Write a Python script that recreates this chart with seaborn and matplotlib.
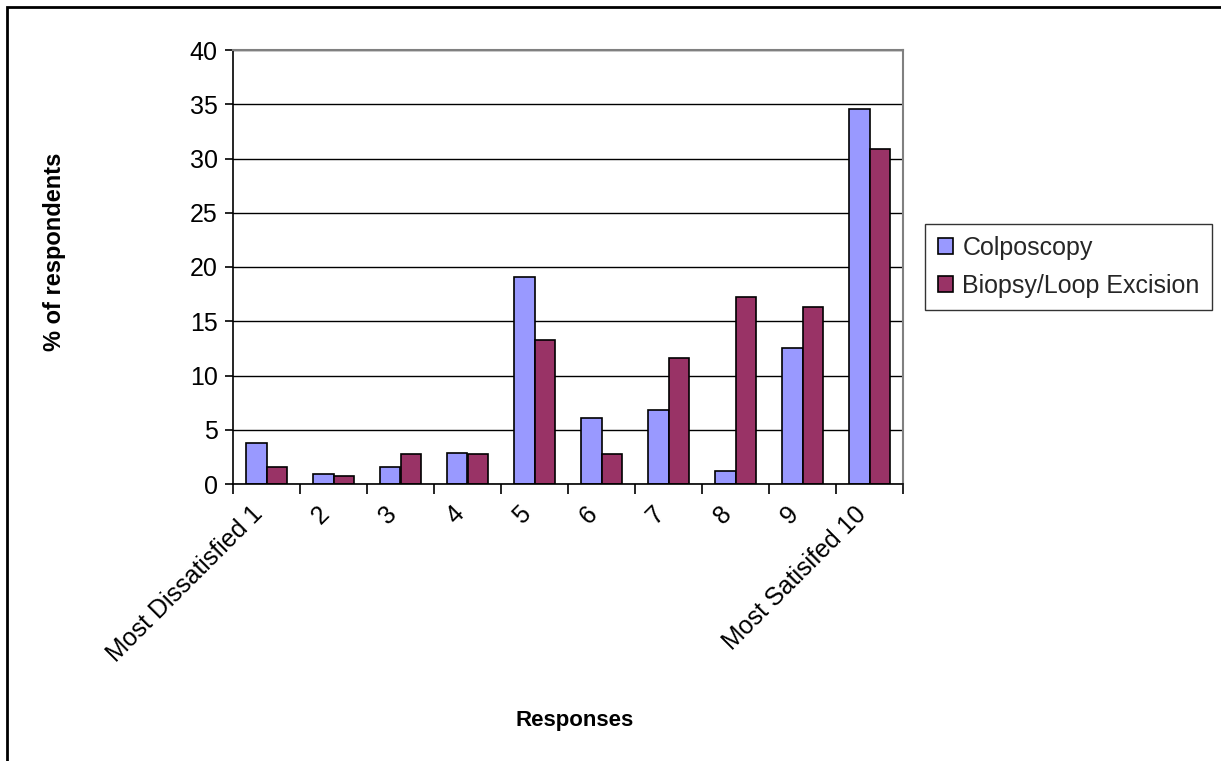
import matplotlib
matplotlib.use("Agg")
import matplotlib.pyplot as plt
import matplotlib.patches as mpatches
import matplotlib.transforms as mtransforms
from matplotlib.ticker import MultipleLocator, FixedLocator
import seaborn as sns
import pandas as pd

# Survey data: share of respondents per satisfaction score
responses = ["Most Dissatisfied 1", "2", "3", "4", "5", "6", "7", "8", "9", "Most Satisifed 10"]
colposcopy = [3.8, 0.9, 1.6, 2.9, 19.1, 6.1, 6.8, 1.2, 12.5, 34.6]
biopsy_loop = [1.6, 0.7, 2.8, 2.8, 13.3, 2.8, 11.6, 17.2, 16.3, 30.9]
series_names = ["Colposcopy", "Biopsy/Loop Excision"]
series_colors = ["#9999FF", "#993366"]

df = pd.DataFrame({
    "Responses": responses * 2,
    "pct": colposcopy + biopsy_loop,
    "Procedure": [series_names[0]] * len(responses) + [series_names[1]] * len(responses),
})

sns.set_theme(style="white")
plt.rcParams["font.family"] = ["Liberation Sans", "DejaVu Sans"]

fig = plt.figure(figsize=(12.21, 7.61), dpi=100)
W, H = 1221, 761
ax = fig.add_axes([233 / W, 1 - 484 / H, (903 - 233) / W, (484 - 50) / H])

sns.barplot(
    data=df, x="Responses", y="pct", hue="Procedure",
    palette=series_colors, width=0.6, gap=0,
    edgecolor="black", linewidth=1.2, saturation=1,
    ax=ax, legend=True,
)

ax.set_xlim(-0.5, len(responses) - 0.5)
ax.set_ylim(0, 40)
ax.yaxis.set_major_locator(MultipleLocator(5))
ax.grid(axis="y", color="#000000", linewidth=1.0)
ax.set_axisbelow(True)

for side in ("left", "bottom"):
    ax.spines[side].set_color("#000000")
    ax.spines[side].set_linewidth(1.2)
for side in ("top", "right"):
    ax.spines[side].set_color("#808080")
    ax.spines[side].set_linewidth(1.5)

# Category separators as ticks on the x axis
ax.xaxis.set_minor_locator(FixedLocator([i - 0.5 for i in range(len(responses) + 1)]))
ax.tick_params(axis="x", which="major", length=0, pad=13)
ax.tick_params(axis="x", which="minor", length=7, width=1.2, color="#000000", direction="out", bottom=True)
ax.tick_params(axis="y", which="major", length=6, width=1.2, color="#000000", direction="out", left=True, pad=5)
ax.tick_params(axis="both", labelsize=18, labelcolor="#000000")

ax.set_xticks(range(len(responses)))
ax.set_xticklabels(responses, rotation=45, ha="right", va="top", rotation_mode="anchor")
shift = mtransforms.ScaledTranslation(-16 / 100, 0, fig.dpi_scale_trans)
for lbl in ax.get_xticklabels():
    lbl.set_transform(lbl.get_transform() + shift)

ax.set_xlabel("Responses", fontsize=16, fontweight="bold", color="#000000")
ax.xaxis.set_label_coords(0.51, -0.52)
ax.set_ylabel("% of respondents", fontsize=17, fontweight="bold", color="#000000")
ax.yaxis.set_label_coords(-0.25, 0.535)

handles = [mpatches.Patch(facecolor=c, edgecolor="black", linewidth=1.2) for c in series_colors]
ax.legend(
    handles, series_names, loc="center left",
    bbox_to_anchor=(925 / W, 1 - 267 / H), bbox_transform=fig.transFigure,
    frameon=True, fancybox=False, edgecolor="#000000", fontsize=18,
    handlelength=0.6, handleheight=0.6, handletextpad=0.4,
    borderpad=0.5, labelspacing=0.55, borderaxespad=0,
)
ax.get_legend().get_frame().set_linewidth(1.0)

# Outer frame of the chart area (runs off the right and bottom edges)
fig.patches.append(mpatches.Rectangle(
    (7.5 / W, -0.05), 1.1, 1 - 7.5 / H + 0.05,
    transform=fig.transFigure, fill=False, edgecolor="#000000", linewidth=2.0,
))

fig.savefig("out.png", dpi=100, facecolor="white")
